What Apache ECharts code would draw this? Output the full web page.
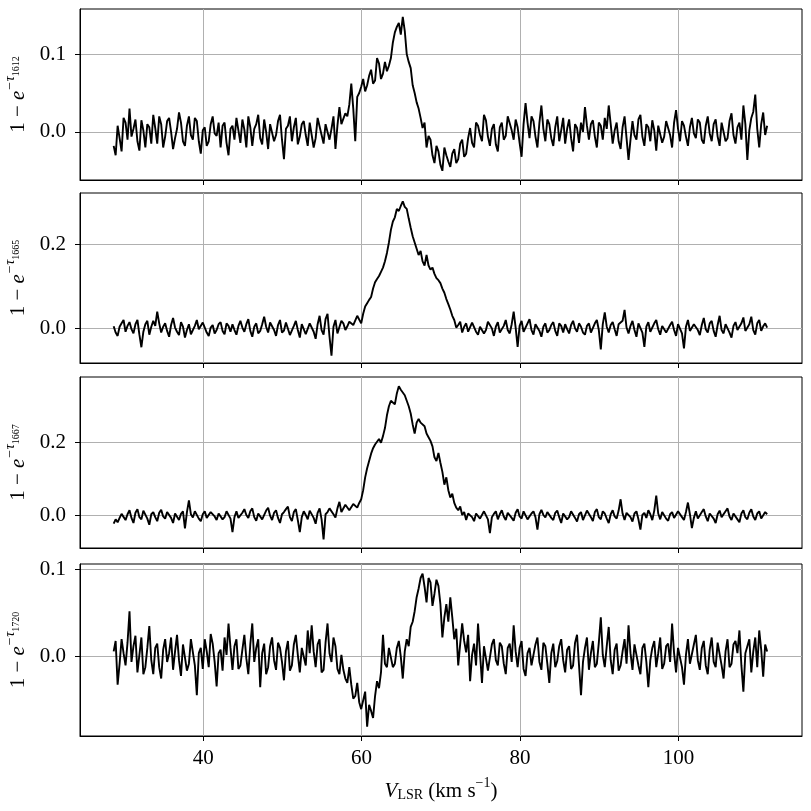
<!DOCTYPE html>
<html>
<head>
<meta charset="utf-8">
<script src="https://cdn.jsdelivr.net/npm/echarts@6/dist/echarts.min.js"></script>
<style>
html, body { margin: 0; padding: 0; background: #fff; }
#chart { width: 811px; height: 811px; }
</style>
</head>
<body>
<div id="chart"></div>
<script>
// velocity grid of the spectra (km/s)
var velStart = 28.7;
var velStep = 0.25;

// 1 - exp(-tau) per transition
var tau1612 = [
    -0.018, -0.030, 0.008, -0.008, -0.025, 0.018, 0.012, -0.010, 0.030, -0.006, 0.004, 0.016, -0.012, -0.024, 0.015, 0.002, -0.020, 0.010, 0.006, -0.015,
    0.022, 0.005, -0.015, 0.020, 0.010, -0.020, -0.006, 0.014, 0.018, 0.000, -0.022, -0.008, 0.004, 0.025, 0.012, -0.012, -0.018, 0.008, 0.020, -0.004,
    -0.010, 0.018, 0.014, -0.012, -0.028, 0.002, 0.006, -0.018, -0.012, 0.010, 0.020, -0.002, -0.005, 0.012, -0.020, 0.008, 0.012, -0.014, -0.030, 0.004,
    0.008, -0.010, 0.018, 0.002, -0.014, 0.016, 0.003, -0.020, 0.020, 0.006, -0.018, 0.004, 0.010, 0.022, -0.008, -0.016, 0.016, 0.000, -0.022, 0.010,
    0.012, -0.012, -0.004, 0.014, 0.022, -0.010, -0.035, 0.004, 0.008, 0.020, -0.012, 0.006, 0.018, -0.016, -0.006, 0.010, 0.014, -0.004, -0.018, 0.012,
    0.010, -0.020, -0.008, 0.018, 0.016, -0.004, -0.015, 0.010, 0.012, -0.010, 0.004, 0.020, -0.022, 0.008, 0.032, 0.010, 0.012, 0.024, 0.020, 0.035,
    0.062, 0.030, -0.012, 0.045, 0.050, 0.058, 0.068, 0.052, 0.060, 0.072, 0.080, 0.062, 0.066, 0.095, 0.088, 0.068, 0.075, 0.090, 0.078, 0.085,
    0.095, 0.115, 0.128, 0.135, 0.140, 0.125, 0.148, 0.130, 0.100, 0.090, 0.082, 0.060, 0.050, 0.038, 0.030, 0.018, 0.005, 0.012, -0.020, -0.005,
    -0.010, -0.030, -0.040, -0.018, -0.025, -0.042, -0.050, -0.020, -0.030, -0.038, -0.045, -0.028, -0.022, -0.040, -0.035, -0.015, -0.010, -0.032, -0.028, -0.008,
    0.005, -0.014, -0.020, 0.012, 0.008, -0.004, -0.012, 0.022, 0.015, -0.006, -0.018, 0.004, 0.010, -0.016, -0.025, 0.006, 0.012, -0.010, -0.005, 0.020,
    0.018, 0.002, -0.010, 0.016, 0.006, -0.014, -0.032, 0.010, 0.037, 0.012, -0.008, 0.020, 0.014, -0.006, -0.020, 0.012, 0.034, 0.004, -0.012, 0.016,
    0.010, -0.008, -0.018, 0.006, 0.020, -0.012, 0.002, 0.018, -0.015, 0.004, 0.016, -0.008, -0.025, 0.010, 0.005, -0.014, 0.012, 0.000, 0.032, 0.008,
    -0.010, 0.010, 0.015, -0.006, -0.020, 0.012, 0.008, -0.010, 0.018, 0.004, 0.034, 0.010, -0.015, 0.002, 0.012, -0.012, -0.022, 0.006, 0.020, -0.008,
    -0.036, -0.010, 0.014, -0.004, -0.010, 0.016, 0.022, -0.006, -0.018, 0.010, 0.006, -0.012, 0.015, 0.002, -0.024, 0.008, 0.010, -0.014, -0.006, 0.014,
    0.016, -0.004, -0.020, 0.012, 0.028, 0.004, -0.012, 0.014, 0.008, -0.006, -0.018, 0.006, 0.018, -0.002, -0.008, 0.016, 0.012, -0.010, -0.015, 0.008,
    0.020, -0.002, -0.012, 0.010, 0.016, -0.006, -0.018, 0.012, 0.010, -0.012, -0.008, 0.014, 0.024, -0.004, -0.015, 0.006, 0.012, -0.010, 0.034, 0.010,
    -0.036, 0.002, 0.018, 0.026, 0.048, 0.004, -0.020, 0.010, 0.025, -0.004, 0.008
];
var tau1665 = [
    0.005, -0.010, -0.018, 0.004, 0.012, 0.020, -0.008, 0.006, 0.015, -0.002, -0.012, 0.010, 0.020, -0.015, -0.045, -0.008, 0.010, 0.018, -0.015, 0.004,
    0.018, 0.006, 0.040, 0.012, -0.010, 0.004, 0.012, -0.006, -0.020, 0.008, 0.025, 0.002, -0.008, -0.016, 0.015, 0.004, -0.022, -0.004, 0.010, -0.014,
    -0.012, 0.006, 0.020, -0.002, -0.006, 0.014, 0.012, -0.010, -0.018, 0.002, 0.008, -0.012, -0.004, 0.010, 0.015, -0.006, -0.014, 0.012, 0.006, -0.008,
    0.010, -0.004, -0.015, 0.006, 0.018, 0.002, -0.008, 0.010, 0.022, -0.006, -0.020, 0.004, 0.012, -0.012, -0.006, 0.010, 0.028, 0.004, -0.010, 0.014,
    0.014, -0.004, -0.018, 0.008, 0.020, -0.010, -0.005, 0.014, 0.012, -0.016, -0.012, 0.006, 0.018, -0.004, -0.022, 0.010, 0.008, -0.014, -0.010, 0.012,
    0.015, -0.008, -0.025, 0.010, 0.030, -0.004, -0.015, 0.022, 0.035, -0.020, -0.065, 0.004, 0.020, -0.012, -0.010, 0.018, 0.012, -0.004, 0.005, 0.016,
    0.020, 0.008, 0.005, 0.030, 0.028, 0.012, 0.035, 0.052, 0.060, 0.068, 0.075, 0.095, 0.110, 0.118, 0.125, 0.135, 0.145, 0.160, 0.180, 0.205,
    0.235, 0.255, 0.265, 0.285, 0.280, 0.292, 0.303, 0.290, 0.285, 0.262, 0.240, 0.220, 0.205, 0.190, 0.175, 0.185, 0.160, 0.150, 0.175, 0.150,
    0.140, 0.145, 0.130, 0.120, 0.115, 0.108, 0.095, 0.085, 0.070, 0.058, 0.045, 0.030, 0.020, 0.002, 0.008, 0.016, -0.010, 0.004, 0.012, -0.008,
    -0.006, 0.014, 0.010, -0.008, -0.015, 0.004, 0.008, -0.012, -0.004, 0.016, 0.012, 0.000, -0.018, 0.004, 0.015, -0.010, -0.008, 0.006, 0.020, -0.004,
    -0.012, 0.010, 0.040, 0.002, -0.044, 0.006, 0.018, -0.008, -0.010, 0.012, 0.022, -0.004, -0.015, 0.010, 0.008, -0.006, -0.020, 0.004, 0.012, -0.010,
    -0.004, 0.008, 0.015, -0.006, -0.018, 0.012, 0.006, -0.010, 0.010, -0.002, -0.012, 0.008, 0.018, 0.000, -0.008, 0.012, 0.004, -0.010, -0.015, 0.006,
    0.012, -0.010, -0.006, 0.012, 0.020, -0.004, -0.050, 0.010, 0.038, 0.004, -0.010, 0.008, 0.015, -0.002, -0.018, 0.010, 0.006, 0.018, 0.044, 0.002,
    -0.012, 0.006, 0.018, -0.004, -0.020, 0.012, 0.010, -0.010, -0.044, 0.004, 0.015, -0.008, -0.006, 0.012, 0.020, -0.002, -0.015, 0.006, 0.008, -0.010,
    -0.010, 0.008, 0.016, -0.004, -0.018, 0.010, 0.012, -0.012, -0.048, 0.004, 0.020, -0.006, -0.008, 0.010, 0.014, -0.004, -0.016, 0.008, 0.025, -0.002,
    -0.010, 0.012, 0.018, -0.006, -0.020, 0.008, 0.030, -0.004, -0.012, 0.010, 0.010, -0.010, -0.022, 0.006, 0.015, -0.004, -0.008, 0.012, 0.026, -0.006,
    -0.010, 0.010, 0.028, -0.004, -0.015, 0.012, 0.020, -0.006, 0.005, 0.012, 0.002
];
var tau1667 = [
    -0.022, -0.010, -0.018, -0.006, 0.005, 0.010, -0.012, 0.004, 0.015, -0.006, -0.020, 0.008, 0.018, -0.004, -0.010, 0.014, 0.012, -0.008, -0.025, 0.004,
    0.010, -0.004, -0.015, 0.008, 0.016, -0.002, -0.008, 0.010, 0.012, -0.006, -0.020, 0.006, 0.008, -0.012, 0.005, 0.012, -0.035, 0.010, 0.042, 0.004,
    -0.005, 0.012, 0.010, -0.008, -0.015, 0.004, 0.012, -0.006, -0.008, 0.010, 0.015, -0.002, -0.012, 0.006, 0.008, -0.010, -0.004, 0.012, 0.014, -0.008,
    -0.045, -0.004, 0.012, -0.006, -0.010, 0.008, 0.018, 0.002, -0.006, 0.012, 0.020, -0.004, -0.014, 0.006, 0.010, -0.010, -0.008, 0.014, 0.022, 0.000,
    -0.012, 0.008, 0.015, -0.006, -0.020, 0.004, 0.010, 0.018, 0.025, -0.004, -0.015, 0.010, 0.018, -0.012, -0.045, -0.004, 0.012, 0.002, -0.010, 0.014,
    0.014, -0.006, -0.022, 0.008, 0.020, -0.010, -0.065, 0.004, 0.010, 0.020, 0.018, 0.004, -0.005, 0.020, 0.038, 0.010, 0.012, 0.030, 0.025, 0.015,
    0.020, 0.032, 0.030, 0.022, 0.035, 0.045, 0.070, 0.105, 0.130, 0.150, 0.170, 0.185, 0.195, 0.190, 0.210, 0.200, 0.218, 0.240, 0.275, 0.300,
    0.315, 0.320, 0.305, 0.335, 0.355, 0.345, 0.340, 0.330, 0.315, 0.300, 0.280, 0.250, 0.225, 0.255, 0.265, 0.255, 0.260, 0.245, 0.225, 0.215,
    0.205, 0.190, 0.160, 0.150, 0.172, 0.145, 0.120, 0.085, 0.105, 0.070, 0.050, 0.060, 0.035, 0.022, 0.015, 0.025, 0.002, 0.010, -0.012, 0.006,
    0.008, -0.004, -0.015, 0.006, 0.010, -0.008, -0.006, 0.012, 0.012, -0.010, -0.048, -0.004, 0.005, 0.012, -0.010, 0.004, 0.015, -0.002, -0.012, 0.008,
    0.006, -0.006, -0.014, 0.008, 0.018, -0.002, -0.008, 0.012, 0.010, -0.010, -0.015, 0.006, 0.012, -0.004, -0.038, 0.004, 0.016, 0.002, -0.005, 0.010,
    0.010, -0.006, -0.012, 0.008, 0.014, -0.004, -0.020, 0.006, 0.008, -0.010, -0.004, 0.012, 0.015, -0.006, -0.016, 0.004, 0.010, -0.012, -0.008, 0.014,
    0.012, -0.004, -0.015, 0.010, 0.018, -0.004, -0.010, 0.012, 0.006, -0.008, -0.020, 0.004, 0.015, -0.002, -0.008, 0.014, 0.045, 0.006, -0.012, 0.008,
    0.010, -0.004, -0.016, 0.006, 0.012, -0.010, -0.038, 0.002, 0.008, -0.006, 0.015, 0.004, -0.012, 0.014, 0.055, 0.006, -0.010, 0.010, 0.006, -0.008,
    -0.014, 0.004, 0.010, -0.006, -0.008, 0.012, 0.015, -0.004, -0.012, 0.010, 0.036, 0.004, -0.034, -0.006, 0.012, -0.008, -0.006, 0.010, 0.018, -0.002,
    -0.015, 0.006, 0.010, -0.008, -0.020, 0.004, 0.014, -0.004, -0.005, 0.012, 0.020, -0.002, -0.012, 0.006, 0.008, -0.010, -0.018, 0.006, 0.015, -0.004,
    -0.010, 0.008, 0.018, -0.002, -0.012, 0.006, 0.012, -0.008, -0.006, 0.010, 0.004
];
var tau1720 = [
    0.006, 0.018, -0.032, -0.008, 0.020, 0.004, -0.010, 0.016, 0.052, -0.006, 0.012, 0.024, -0.018, 0.002, 0.022, -0.020, -0.012, 0.010, 0.035, -0.004,
    -0.020, 0.010, 0.015, -0.012, -0.025, 0.008, 0.020, -0.006, 0.004, 0.022, -0.015, 0.006, 0.025, -0.004, -0.022, 0.014, 0.012, -0.016, -0.008, 0.020,
    0.018, -0.010, -0.044, 0.004, 0.010, -0.014, 0.020, 0.006, -0.012, 0.026, 0.015, -0.006, -0.034, 0.004, 0.008, -0.016, 0.022, 0.002, 0.038, 0.010,
    -0.015, 0.012, 0.020, -0.014, -0.010, 0.008, 0.025, -0.002, -0.020, 0.014, 0.038, -0.006, 0.010, 0.020, -0.035, 0.004, 0.015, -0.020, -0.012, 0.012,
    0.022, -0.004, -0.015, 0.016, 0.010, -0.006, -0.027, 0.006, 0.018, -0.016, -0.010, 0.014, 0.025, 0.002, -0.018, 0.010, 0.012, -0.010, 0.030, 0.004,
    0.036, 0.006, -0.012, 0.014, 0.020, -0.018, -0.015, 0.016, 0.038, 0.004, -0.006, 0.022, 0.012, -0.014, -0.020, 0.002, -0.015, -0.025, -0.030, -0.012,
    -0.032, -0.048, -0.045, -0.030, -0.052, -0.060, -0.058, -0.040, -0.080, -0.055, -0.062, -0.070, -0.045, -0.028, -0.036, -0.018, 0.025, -0.008, -0.012, 0.010,
    0.012, -0.012, -0.008, 0.010, 0.018, 0.000, -0.025, 0.006, 0.020, 0.012, 0.034, 0.040, 0.052, 0.068, 0.078, 0.090, 0.095, 0.080, 0.062, 0.090,
    0.085, 0.058, 0.072, 0.088, 0.081, 0.060, 0.022, 0.045, 0.060, 0.040, 0.068, 0.045, 0.020, 0.032, -0.010, 0.015, 0.038, 0.018, 0.005, 0.025,
    -0.028, 0.002, 0.015, -0.010, 0.038, 0.004, -0.030, 0.012, 0.010, -0.016, -0.015, 0.014, 0.020, -0.004, -0.010, 0.016, 0.012, -0.008, -0.020, 0.010,
    0.015, -0.006, 0.036, 0.006, -0.012, 0.010, 0.018, -0.014, -0.022, 0.004, 0.010, -0.010, -0.008, 0.014, 0.022, -0.006, -0.015, 0.016, 0.012, -0.008,
    -0.030, 0.004, 0.015, -0.012, -0.005, 0.012, 0.020, -0.004, -0.018, 0.008, 0.012, -0.014, -0.010, 0.016, 0.025, -0.010, -0.044, -0.006, 0.010, 0.022,
    -0.015, 0.004, 0.018, -0.012, -0.008, 0.016, 0.045, 0.002, -0.012, 0.012, 0.034, -0.004, -0.020, 0.008, 0.015, -0.016, -0.010, 0.006, 0.020, -0.008,
    0.036, 0.004, -0.015, 0.014, 0.012, -0.010, -0.020, 0.010, 0.015, -0.006, -0.035, -0.004, 0.010, 0.018, -0.012, 0.004, 0.022, -0.014, -0.008, 0.012,
    0.015, -0.006, 0.038, 0.004, -0.018, 0.010, 0.012, -0.012, -0.032, 0.002, 0.020, -0.008, -0.010, 0.014, 0.025, -0.004, -0.015, 0.010, 0.018, -0.010,
    -0.020, 0.008, 0.022, -0.006, -0.012, 0.016, 0.015, -0.010, -0.025, 0.006, 0.020, -0.012, -0.008, 0.014, 0.018, 0.004, 0.030, -0.010, -0.040, 0.004,
    0.012, 0.020, -0.018, 0.006, 0.022, -0.012, 0.030, 0.008, -0.023, 0.014, 0.006
];

// tick labels
var xTicks = [40, 60, 80, 100];
var yTicks1612 = [0.0, 0.1];
var yTicks1665 = [0.0, 0.2];
var yTicks1667 = [0.0, 0.2];
var yTicks1720 = [0.0, 0.1];

var velocity = [];
for (var i = 0; i < tau1612.length; i++) {
    velocity.push(+(velStart + i * velStep).toFixed(2));
}

var FONT = 'Liberation Serif';

// layout of the four stacked panels
var panels = [
    {name: '1612', values: tau1612, ticks: yTicks1612, top: 9,   height: 171, min: -0.0618, max: 0.158},
    {name: '1665', values: tau1665, ticks: yTicks1665, top: 193, height: 170, min: -0.0826, max: 0.323},
    {name: '1667', values: tau1667, ticks: yTicks1667, top: 377, height: 171, min: -0.0885, max: 0.380},
    {name: '1720', values: tau1720, ticks: yTicks1720, top: 564, height: 172, min: -0.0907, max: 0.106}
];

var grids = [], xAxes = [], yAxes = [], series = [];

panels.forEach(function (p, k) {
    var last = k === panels.length - 1;
    grids.push({
        left: 80, right: 9, top: p.top, height: p.height,
        containLabel: false, outerBoundsMode: 'none',
        show: true, borderColor: '#000', borderWidth: 1,
        backgroundColor: 'transparent'
    });
    xAxes.push({
        type: 'value', gridIndex: k, min: 24.45, max: 115.6,
        axisLine: {show: true, onZero: false, lineStyle: {color: '#000', width: 1}},
        axisTick: {show: true, inside: false, length: 5, customValues: xTicks, lineStyle: {color: '#000', width: 1}},
        axisLabel: {show: last, customValues: xTicks, margin: 12, color: '#000', fontFamily: FONT, fontSize: 21},
        splitLine: {show: true, lineStyle: {color: '#b0b0b0', width: 1}},
        name: last ? '{v|V}{sub|LSR}{a| (km s}{sup|−1}{a|)}' : '',
        nameLocation: 'middle',
        nameGap: 40,
        nameTextStyle: {
            color: '#000', fontFamily: FONT,
            rich: {
                v: {fontSize: 21, fontStyle: 'italic', fontFamily: FONT, lineHeight: 26, verticalAlign: 'bottom'},
                sub: {fontSize: 14, fontFamily: FONT, lineHeight: 14, verticalAlign: 'bottom'},
                a: {fontSize: 21, fontFamily: FONT, lineHeight: 26, verticalAlign: 'bottom'},
                sup: {fontSize: 14, fontFamily: FONT, lineHeight: 14, verticalAlign: 'top'}
            }
        }
    });
    yAxes.push({
        type: 'value', gridIndex: k, min: p.min, max: p.max,
        axisLine: {show: true, lineStyle: {color: '#000', width: 1}},
        axisTick: {show: true, inside: false, length: 5, customValues: p.ticks, lineStyle: {color: '#000', width: 1}},
        axisLabel: {
            customValues: p.ticks, margin: 14, color: '#000', fontFamily: FONT, fontSize: 21,
            formatter: function (v) { return v.toFixed(1); }
        },
        splitLine: {show: true, lineStyle: {color: '#b0b0b0', width: 1}},
        name: '{n|1 − }{e|e}{s|−τ}{ss|' + p.name + '}',
        nameLocation: 'middle',
        nameRotate: 90,
        nameGap: 49,
        nameTextStyle: {
            color: '#000', fontFamily: FONT,
            rich: {
                n: {fontSize: 21, fontFamily: FONT, lineHeight: 26, verticalAlign: 'bottom'},
                e: {fontSize: 21, fontFamily: FONT, fontStyle: 'italic', lineHeight: 26, verticalAlign: 'bottom'},
                s: {fontSize: 14, fontFamily: FONT, fontStyle: 'italic', lineHeight: 14, verticalAlign: 'top'},
                ss: {fontSize: 10, fontFamily: FONT, lineHeight: 10, verticalAlign: 'top', padding: [9, 0, 0, 0]}
            }
        }
    });
    series.push({
        type: 'line', xAxisIndex: k, yAxisIndex: k,
        data: velocity.map(function (v, j) { return [v, p.values[j]]; }),
        showSymbol: false, symbol: 'none',
        lineStyle: {color: '#000', width: 1.9},
        silent: true
    });
});

var chart = echarts.init(document.getElementById('chart'), null, {renderer: 'canvas'});
chart.setOption({
    animation: false,
    backgroundColor: '#fff',
    grid: grids,
    xAxis: xAxes,
    yAxis: yAxes,
    series: series
});
</script>
</body>
</html>
